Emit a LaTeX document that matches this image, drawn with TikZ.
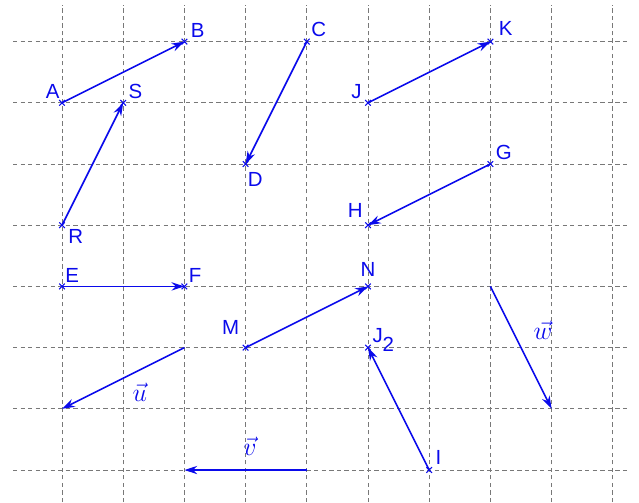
\documentclass[tikz,border=0pt]{standalone}
\usepackage{fontspec}
\setsansfont{Liberation Sans}
\usetikzlibrary{arrows.meta}
\definecolor{vecB}{RGB}{10,10,235}
\definecolor{gridG}{RGB}{120,120,120}

\begin{document}
\begin{tikzpicture}[>={Stealth[length=2.1mm,width=1.35mm]},
  grd/.style={gridG,line width=0.45pt,dash pattern=on 2pt off 1.5pt},
  vec/.style={->,vecB,line width=0.75pt},
  pt/.style={vecB,line width=0.5pt},
  lbl/.style={vecB,font=\sffamily\fontsize{9.5}{11}\selectfont,inner sep=0pt},
  vlbl/.style={vecB,font=\fontsize{12}{14}\selectfont}]
\useasboundingbox (-1.013,-0.523) rectangle (9.428,7.68);
% grid
\foreach \x in {0,...,9} \draw[grd] (\x,-0.523)--(\x,7.6);
\foreach \y in {0,...,7} \draw[grd] (-0.8,\y)--(9.28,\y);
% points
\foreach \n/\x/\y/\a/\dx/\dy/\t in {A/0/6/south east/-0.9/1.9/A,B/2/7/south west/2.8/1.9/B,
    C/4/7/south west/1.9/1.9/C,D/3/5/north west/0.9/-3.7/D,S/1/6/south west/2.3/1.9/S,
    R/0/4/north west/2.8/-1.9/R,J/5/6/south east/-2.8/1.9/J,K/7/7/south west/3.7/2.8/K,
    G/7/5/south west/2.3/1.9/G,H/5/4/south east/-2.3/3.3/H,E/0/3/south west/1.4/1.4/E,
    F/2/3/south west/1.9/1.4/F,M/3/2/south east/-2.8/6/M,N/5/3/south/0/4.2/N,
    J2/5/2/base west/1.9/2.3/J\raisebox{-4.2pt}{2},I/6/0/south west/2.8/2.3/I}{
  \coordinate (\n) at (\x,\y);
  \draw[pt] (\n) +(-1.3pt,-1.3pt) -- +(1.3pt,1.3pt) +(-1.3pt,1.3pt) -- +(1.3pt,-1.3pt);
  \node[lbl,anchor=\a,xshift=\dx pt,yshift=\dy pt] (l\n) at (\n) {\t};
}
\draw[vec] (A)--(B);
\draw[vec] (C)--(D);
\draw[vec] (R)--(S);
\draw[vec] (J)--(K);
\draw[vec] (G)--(H);
\draw[vec] (E)--(F);
\draw[vec] (M)--(N);
\draw[vec] (I)--(J2);
% free vectors
\coordinate (u1) at (2,2); \coordinate (u2) at (0,1);
\coordinate (v1) at (4,0); \coordinate (v2) at (2,0);
\coordinate (w1) at (7,3); \coordinate (w2) at (8,1);
\draw[vec] (u1)--(u2);
\draw[vec] (v1)--(v2);
\draw[vec] (w1)--(w2);
\node[vlbl] (lu) at (1.27,1.27) {$\vec{u}$};
\node[vlbl] (lv) at (3.07,0.38) {$\vec{v}$};
\node[vlbl] (lw) at (7.86,2.29) {$\vec{w}$};
\end{tikzpicture}
\end{document}
